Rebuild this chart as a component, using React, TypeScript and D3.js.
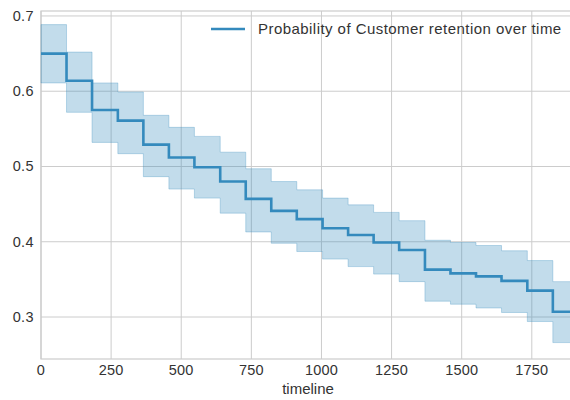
import React, { useEffect, useRef } from 'react';
import * as d3 from 'd3';

// step start times (days) and the end of the timeline
const times = [0, 91, 182, 274, 365, 456, 547, 639, 730, 821, 912, 1004, 1095, 1186, 1277, 1369, 1460, 1551, 1642, 1734, 1825];
const endTime = 1904;

const survival = [0.650, 0.614, 0.575, 0.561, 0.529, 0.512, 0.499, 0.480, 0.457, 0.441, 0.430, 0.418, 0.409, 0.399, 0.389, 0.363, 0.358, 0.354, 0.348, 0.335, 0.307];
const upperCI = [0.6885, 0.652, 0.611, 0.599, 0.568, 0.552, 0.540, 0.519, 0.497, 0.480, 0.469, 0.458, 0.449, 0.439, 0.428, 0.402, 0.399, 0.395, 0.388, 0.375, 0.347];
const lowerCI = [0.611, 0.572, 0.532, 0.517, 0.4865, 0.470, 0.458, 0.438, 0.413, 0.398, 0.387, 0.377, 0.367, 0.357, 0.347, 0.321, 0.317, 0.312, 0.306, 0.294, 0.266];

const xTicks = [0, 250, 500, 750, 1000, 1250, 1500, 1750];
const yTicks = [0.3, 0.4, 0.5, 0.6, 0.7];

const legendLabel = 'Probability of Customer retention over time';
const xLabel = 'timeline';

const App = () => {
  const svgRef = useRef<SVGSVGElement>(null);

  useEffect(() => {
    const width = 570;
    const height = 400;
    const margin = { top: 11, right: -5, bottom: 41, left: 41 };
    const color = '#348ABD';
    const gridColor = '#cccccc';
    const textColor = '#333333';
    const font = '"Liberation Sans", Arial, sans-serif';

    const svg = d3.select(svgRef.current);
    svg.selectAll('*').remove();

    const x = d3.scaleLinear().domain([0, endTime]).range([margin.left, width - margin.right]);
    const y = d3.scaleLinear().domain([0.2442, 0.7066]).range([height - margin.bottom, margin.top]);

    const rows = times.map((t, i) => ({ t, s: survival[i], hi: upperCI[i], lo: lowerCI[i] }));
    rows.push({ t: endTime, s: survival[survival.length - 1], hi: upperCI[upperCI.length - 1], lo: lowerCI[lowerCI.length - 1] });

    // grid
    svg.append('g')
      .selectAll('line')
      .data(xTicks)
      .enter()
      .append('line')
      .attr('x1', (d) => x(d))
      .attr('x2', (d) => x(d))
      .attr('y1', margin.top)
      .attr('y2', height - margin.bottom)
      .attr('stroke', gridColor)
      .attr('stroke-width', 1);

    svg.append('g')
      .selectAll('line')
      .data(yTicks)
      .enter()
      .append('line')
      .attr('x1', margin.left)
      .attr('x2', width - margin.right)
      .attr('y1', (d) => y(d))
      .attr('y2', (d) => y(d))
      .attr('stroke', gridColor)
      .attr('stroke-width', 1);

    // spines
    svg.append('rect')
      .attr('x', margin.left)
      .attr('y', margin.top)
      .attr('width', width - margin.right - margin.left)
      .attr('height', height - margin.bottom - margin.top)
      .attr('fill', 'none')
      .attr('stroke', gridColor)
      .attr('stroke-width', 1.2);

    const band = d3.area<any>()
      .x((d) => x(d.t))
      .y0((d) => y(d.lo))
      .y1((d) => y(d.hi))
      .curve(d3.curveStepAfter);

    svg.append('path')
      .datum(rows)
      .attr('fill', color)
      .attr('fill-opacity', 0.3)
      .attr('stroke', color)
      .attr('stroke-opacity', 0.3)
      .attr('stroke-width', 1)
      .attr('d', band);

    const line = d3.line<any>()
      .x((d) => x(d.t))
      .y((d) => y(d.s))
      .curve(d3.curveStepAfter);

    svg.append('path')
      .datum(rows)
      .attr('fill', 'none')
      .attr('stroke', color)
      .attr('stroke-width', 2.6)
      .attr('d', line);

    // tick labels
    svg.append('g')
      .selectAll('text')
      .data(xTicks)
      .enter()
      .append('text')
      .attr('x', (d) => x(d))
      .attr('y', height - margin.bottom + 16)
      .attr('text-anchor', 'middle')
      .attr('font-family', font)
      .attr('font-size', 14.5)
      .attr('letter-spacing', 0.2)
      .attr('fill', textColor)
      .text((d) => d3.format('d')(d));

    svg.append('g')
      .selectAll('text')
      .data(yTicks)
      .enter()
      .append('text')
      .attr('x', margin.left - 7)
      .attr('y', (d) => y(d) + 5)
      .attr('text-anchor', 'end')
      .attr('font-family', font)
      .attr('font-size', 14.5)
      .attr('letter-spacing', 0.4)
      .attr('fill', textColor)
      .text((d) => d3.format('.1f')(d));

    svg.append('text')
      .attr('x', (margin.left + width - margin.right) / 2)
      .attr('y', height - 6)
      .attr('text-anchor', 'middle')
      .attr('font-family', font)
      .attr('font-size', 15)
      .attr('fill', textColor)
      .text(xLabel);

    // legend
    svg.append('line')
      .attr('x1', 211)
      .attr('x2', 245)
      .attr('y1', 29)
      .attr('y2', 29)
      .attr('stroke', color)
      .attr('stroke-width', 2.6);

    svg.append('text')
      .attr('x', 258)
      .attr('y', 34)
      .attr('font-family', font)
      .attr('font-size', 15)
      .attr('letter-spacing', 0.45)
      .attr('fill', textColor)
      .text(legendLabel);
  }, []);

  return (
    <svg
      ref={svgRef}
      width={570}
      height={400}
      style={{ position: 'absolute', left: 0, top: 0, background: '#fff' }}
    />
  );
};

export default App;
